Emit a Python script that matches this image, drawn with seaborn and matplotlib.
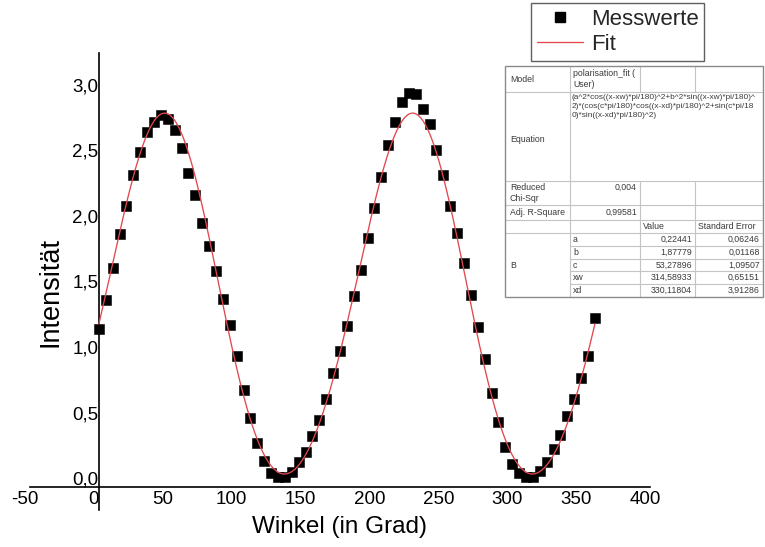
import numpy as np
import pandas as pd
import matplotlib
matplotlib.use("Agg")
import matplotlib.pyplot as plt
import matplotlib.transforms as mtransforms
from matplotlib.lines import Line2D
from matplotlib.patches import Rectangle
from matplotlib.ticker import FuncFormatter, FixedLocator
import seaborn as sns

# Messwerte: Polarisatorwinkel (Grad) und gemessene Intensität
winkel = [0, 5, 10, 15, 20, 25, 30, 35, 40, 45, 50, 55, 60, 65, 70, 75, 80, 85,
          90, 95, 100, 105, 110, 115, 120, 125, 130, 135, 140, 145, 150, 155,
          160, 165, 170, 175, 180, 185, 190, 195, 200, 205, 210, 215, 220, 225,
          230, 235, 240, 245, 250, 255, 260, 265, 270, 275, 280, 285, 290, 295,
          300, 305, 310, 315, 320, 325, 330, 335, 340, 345, 350, 355, 360]
intensitaet = [1.14, 1.36, 1.60, 1.86, 2.08, 2.31, 2.49, 2.64, 2.72, 2.77, 2.74,
               2.66, 2.52, 2.33, 2.16, 1.95, 1.77, 1.58, 1.37, 1.17, 0.93, 0.675,
               0.46, 0.27, 0.13, 0.04, 0.005, 0.005, 0.046, 0.12, 0.20, 0.32,
               0.44, 0.60, 0.80, 0.97, 1.16, 1.39, 1.59, 1.83, 2.06, 2.30, 2.54,
               2.72, 2.87, 2.94, 2.93, 2.82, 2.70, 2.50, 2.31, 2.08, 1.87, 1.64,
               1.40, 1.15, 0.905, 0.65, 0.43, 0.24, 0.11, 0.04, 0.005, 0.01,
               0.056, 0.12, 0.22, 0.33, 0.47, 0.60, 0.765, 0.93, 1.225]

# Fit-Ergebnis (polarisation_fit)
param_names = ["a", "b", "c", "xw", "xd"]
param_values = [0.22441, 1.87779, 53.27896, 314.58933, 330.11804]
param_errors = [0.06246, 0.01168, 1.09507, 0.65151, 3.91286]
reduced_chi_sqr = "0,004"
adj_r_square = "0,99581"
equation_lines = [
    "(a^2*cos((x-xw)*pi/180)^2+b^2*sin((x-xw)*pi/180)^",
    "2)*(cos(c*pi/180)*cos((x-xd)*pi/180)^2+sin(c*pi/18",
    "0)*sin((x-xd)*pi/180)^2)",
]

x_ticks = [-50, 0, 50, 100, 150, 200, 250, 300, 350, 400]
y_ticks = [0.0, 0.5, 1.0, 1.5, 2.0, 2.5, 3.0]


def polarisation_fit(x, a, b, c, xw, xd):
    r = np.pi / 180
    return ((a ** 2 * np.cos((x - xw) * r) ** 2 + b ** 2 * np.sin((x - xw) * r) ** 2)
            * (np.cos(c * r) * np.cos((x - xd) * r) ** 2
               + np.sin(c * r) * np.sin((x - xd) * r) ** 2))


def komma(v):
    return v.replace(".", ",")


sns.set_theme(style="white")
plt.rcParams["font.family"] = ["Liberation Sans", "DejaVu Sans"]

W, H = 765, 547
fit_color = "#e2474e"
fig = plt.figure(figsize=(W / 100, H / 100), dpi=100)
ax = fig.add_axes([30 / W, (H - 510) / H, 620 / W, 457 / H])

data = pd.DataFrame({"Winkel": winkel, "Intensität": intensitaet})
x_fit = np.linspace(min(winkel), max(winkel), 721)
fit = pd.DataFrame({"Winkel": x_fit,
                    "Intensität": polarisation_fit(x_fit, *param_values)})

sns.scatterplot(data=data, x="Winkel", y="Intensität", marker="s", s=55,
                color="black", edgecolor="black", linewidth=0.4, zorder=3,
                ax=ax, legend=False)
sns.lineplot(data=fit, x="Winkel", y="Intensität", color=fit_color, lw=0.95,
             zorder=4, ax=ax, legend=False)

ax.set_xlim(-50, 400)
ax.set_ylim(-0.244, 3.244)
ax.xaxis.set_major_locator(FixedLocator(x_ticks))
ax.yaxis.set_major_locator(FixedLocator(y_ticks))
ax.yaxis.set_major_formatter(FuncFormatter(lambda v, p: komma(f"{v:.1f}")))
ax.xaxis.set_major_formatter(FuncFormatter(lambda v, p: f"{v:.0f}"))

for s in ("top", "right"):
    ax.spines[s].set_visible(False)
ax.spines["left"].set_position(("data", 0))
ax.spines["bottom"].set_position(("data", -0.07))
for s in ("left", "bottom"):
    ax.spines[s].set_color("black")
    ax.spines[s].set_linewidth(1.2)
ax.patch.set_alpha(0)

ax.tick_params(axis="both", length=0, labelsize=13.5, colors="black")
ax.tick_params(axis="y", pad=0.5)
ax.tick_params(axis="x", pad=2.5)

ax.set_xlabel("Winkel (in Grad)", fontsize=17.5, color="black", va="center")
ax.set_ylabel("Intensität", fontsize=19.5, color="black", va="center")
ax.xaxis.set_label_coords((340 - 30) / 620, -(527 - 510) / 457)
ax.yaxis.set_label_coords((51 - 30) / 620, (510 - 292) / 457)

# x-Beschriftungen leicht nach links versetzt
shift = mtransforms.ScaledTranslation(-5 / 100, 0, fig.dpi_scale_trans)
for lab in ax.get_xticklabels():
    lab.set_transform(lab.get_transform() + shift)

handles = [
    Line2D([], [], marker="s", color="black", linestyle="none", markersize=6.5),
    Line2D([], [], color=fit_color, lw=0.95),
]
leg = ax.legend(handles, ["Messwerte", "Fit"], loc="upper left",
                bbox_to_anchor=(531 / W, 1 - 3 / H),
                bbox_transform=fig.transFigure, frameon=True, fancybox=False,
                fontsize=16, handlelength=2.1, handletextpad=0.35,
                borderpad=0.25, borderaxespad=0, labelspacing=0.2)
leg.get_frame().set_edgecolor("#606060")
leg.get_frame().set_linewidth(1.0)
leg.get_frame().set_facecolor("white")
leg.get_frame().set_alpha(1)

# Fit-Bericht als Tabelle
ov = fig.add_axes([0, 0, 1, 1], zorder=5)
ov.set_xlim(0, W)
ov.set_ylim(H, 0)
ov.axis("off")

c = [505, 570, 640, 695, 763]
r = [66, 92, 181, 205, 220, 233, 246, 259, 271, 284, 297]
inner = "#c4c4c4"
tcol = "#3a3a3a"
fs = 6.3

ov.add_patch(Rectangle((c[0], r[0]), c[4] - c[0], r[-1] - r[0],
                       facecolor="white", edgecolor="none", zorder=1))
for y in r[1:-1]:
    x0 = c[1] if y in r[6:10] else c[0]
    ov.plot([x0, c[4]], [y, y], color=inner, lw=0.8, zorder=2)
ov.plot([c[1], c[1]], [r[0], r[-1]], color=inner, lw=0.8, zorder=2)
for xc in (c[2], c[3]):
    ov.plot([xc, xc], [r[0], r[1]], color=inner, lw=0.8, zorder=2)
    ov.plot([xc, xc], [r[2], r[-1]], color=inner, lw=0.8, zorder=2)
ov.add_patch(Rectangle((c[0], r[0]), c[4] - c[0], r[-1] - r[0],
                       facecolor="none", edgecolor="#8a8a8a", lw=1.0, zorder=3))


def cell(x, y, s, ha="left", va="center", size=fs, **kw):
    ov.text(x, y, s, ha=ha, va=va, fontsize=size, color=tcol, zorder=4, **kw)


cell(510, (r[0] + r[1]) / 2, "Model")
cell(573, (r[0] + r[1]) / 2, "polarisation_fit (\nUser)", linespacing=1.15)
cell(510, 140, "Equation")
cell(572, r[1] + 2, "\n".join(equation_lines), va="top", linespacing=1.42,
     size=5.95)
cell(510, (r[2] + r[3]) / 2, "Reduced\nChi-Sqr", linespacing=1.2)
cell(637, r[2] + 6, reduced_chi_sqr, ha="right")
cell(510, (r[3] + r[4]) / 2, "Adj. R-Square")
cell(637, (r[3] + r[4]) / 2, adj_r_square, ha="right")
cell(643, (r[4] + r[5]) / 2, "Value")
cell(698, (r[4] + r[5]) / 2, "Standard Error")
cell(510, (r[5] + r[10]) / 2, "B")
for i, (n, v, e) in enumerate(zip(param_names, param_values, param_errors)):
    yc = (r[5 + i] + r[6 + i]) / 2
    cell(573, yc, n)
    cell(692, yc, komma(f"{v:.5f}"), ha="right")
    cell(760, yc, komma(f"{e:.5f}"), ha="right")

fig.savefig("out.png", dpi=100)
